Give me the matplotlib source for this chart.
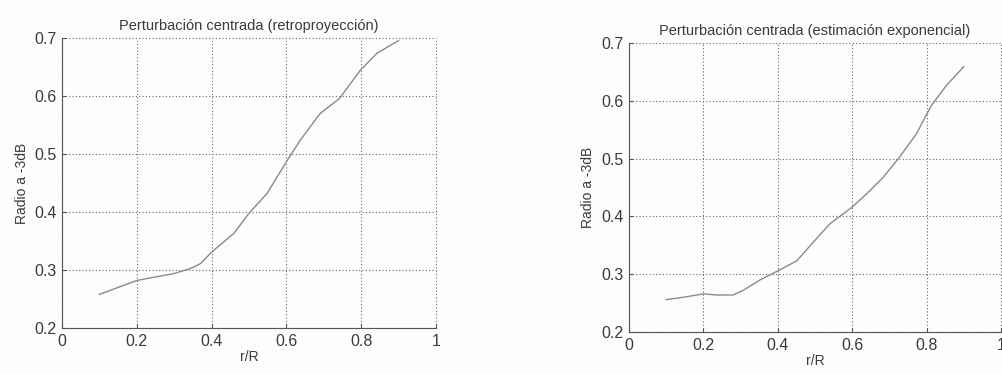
import matplotlib
matplotlib.use('Agg')
import matplotlib.pyplot as plt

plt.rcParams['font.family'] = ['Liberation Sans', 'DejaVu Sans']

# retroproyeccion
r_retro = [0.10, 0.20, 0.30, 0.343, 0.37, 0.40, 0.459, 0.50, 0.548, 0.603,
           0.637, 0.69, 0.742, 0.798, 0.842, 0.90]
radio_retro = [0.258, 0.282, 0.294, 0.3025, 0.311, 0.331, 0.363, 0.398, 0.432, 0.49,
               0.524, 0.57, 0.596, 0.645, 0.674, 0.696]

# estimacion exponencial
r_exp = [0.10, 0.155, 0.20, 0.236, 0.28, 0.307, 0.352, 0.401, 0.451, 0.495,
         0.54, 0.60, 0.639, 0.684, 0.728, 0.773, 0.813, 0.854, 0.90]
radio_exp = [0.256, 0.261, 0.266, 0.264, 0.264, 0.272, 0.290, 0.306, 0.323, 0.355,
             0.387, 0.416, 0.439, 0.468, 0.503, 0.543, 0.592, 0.627, 0.659]

xticks = [0, 0.2, 0.4, 0.6, 0.8, 1]
yticks = [0.2, 0.3, 0.4, 0.5, 0.6, 0.7]
xticklabels = ['0', '0.2', '0.4', '0.6', '0.8', '1']
yticklabels = ['0.2', '0.3', '0.4', '0.5', '0.6', '0.7']

txt = '#3a3a3a'

fig = plt.figure(figsize=(10.02, 3.74), dpi=100)
fig.patch.set_facecolor('#fdfdfd')

ax1 = fig.add_axes([0.0619, 0.123, 0.3733, 0.775])
ax2 = fig.add_axes([0.6277, 0.1123, 0.3712, 0.7727])

paneles = [
    (ax1, r_retro, radio_retro, 'Perturbación centrada (retroproyección)'),
    (ax2, r_exp, radio_exp, 'Perturbación centrada (estimación exponencial)'),
]

for ax, x, y, titulo in paneles:
    ax.set_facecolor('#fdfdfd')
    ax.plot(x, y, color='#8a8a8a', lw=1.0)
    ax.set_xlim(0, 1)
    ax.set_ylim(0.2, 0.7)
    ax.set_xticks(xticks)
    ax.set_xticklabels(xticklabels)
    ax.set_yticks(yticks)
    ax.set_yticklabels(yticklabels)
    ax.grid(True, linestyle=(0, (1, 2)), color='#666666', lw=0.8)
    for gl in ax.get_xgridlines() + ax.get_ygridlines():
        gl.set_clip_on(False)
    ax.spines['top'].set_visible(False)
    ax.spines['right'].set_visible(False)
    ax.spines['left'].set_color('#555555')
    ax.spines['bottom'].set_color('#555555')
    ax.tick_params(direction='in', length=3, color='#555555', labelsize=11.5,
                   labelcolor=txt, pad=4)
    ax.set_title(titulo, fontsize=10.5, color=txt, pad=6)
    ax.set_xlabel('r/R', fontsize=10, color=txt, labelpad=1)
    ax.set_ylabel('Radio a -3dB', fontsize=10, color=txt, labelpad=4)

fig.savefig('out.png', dpi=100, facecolor=fig.get_facecolor())
